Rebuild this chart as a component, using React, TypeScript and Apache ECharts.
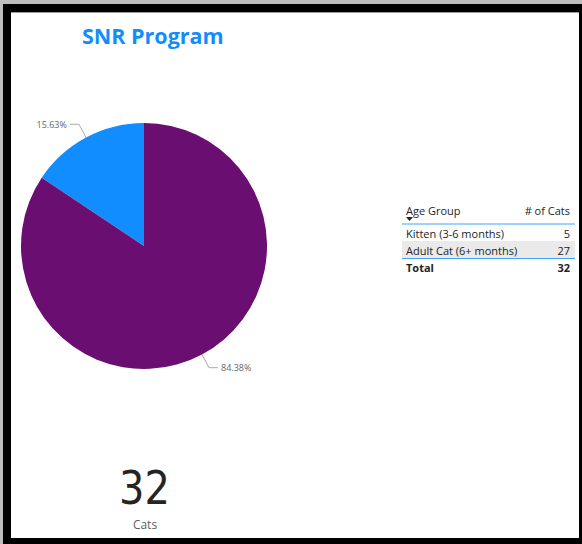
import React, { useEffect, useRef } from "react";
import * as echarts from "echarts";

const titleText = "SNR Program";
const ageGroups = ["Kitten (3-6 months)", "Adult Cat (6+ months)"];
const catCounts = [5, 27];
const sliceColors = ["#118DFF", "#6B0E72"];
const tableHeaders = ["Age Group", "# of Cats"];
const totalLabel = "Total";
const cardLabel = "Cats";

const FONT = "'Segoe UI', 'Open Sans', 'Noto Sans', sans-serif";

export default function App() {
  const ref = useRef<HTMLDivElement>(null);
  useEffect(() => {
    if (!ref.current) return;
    const chart = echarts.init(ref.current, null, { renderer: "svg" });
    const total = catCounts.reduce((a, b) => a + b, 0);

    const tX0 = 402, tX1 = 575, tL = 406, tR = 570;
    const headerY = 210;
    const rowYs = [233, 250];
    const fs = 11;
    const graphic: any[] = [
      { type: "rect", shape: { x: 0, y: 0, width: 582, height: 544 }, style: { fill: "#BDBDBD" }, z: -10 },
      { type: "rect", shape: { x: 3, y: 4, width: 579, height: 540 }, style: { fill: "#000" }, z: -9 },
      { type: "rect", shape: { x: 11, y: 12, width: 568, height: 1 }, style: { fill: "#9a9a9a" }, z: -8 },
      { type: "rect", shape: { x: 11, y: 13, width: 568, height: 525 }, style: { fill: "#fff" }, z: -8 },
      // table header
      { type: "text", x: tL, y: headerY, style: { text: tableHeaders[0], font: `${fs}px ${FONT}`, fill: "#252423", verticalAlign: "middle" } },
      { type: "text", x: tR, y: headerY, style: { text: tableHeaders[1], font: `${fs}px ${FONT}`, fill: "#252423", align: "right", verticalAlign: "middle" } },
      { type: "polygon", shape: { points: [[406, 217], [413, 217], [409.5, 221]] }, style: { fill: "#252423" } },
      { type: "line", shape: { x1: tX0, y1: 224, x2: tX1, y2: 224 }, style: { stroke: "#41A4FF", lineWidth: 1 } },
      { type: "rect", shape: { x: tX0, y: 241, width: tX1 - tX0, height: 17 }, style: { fill: "#EAEAEA" } },
      { type: "line", shape: { x1: tX0, y1: 258.5, x2: tX1, y2: 258.5 }, style: { stroke: "#41A4FF", lineWidth: 1 } },
      { type: "text", x: tL, y: 267, style: { text: totalLabel, font: `bold ${fs}px ${FONT}`, fill: "#252423", verticalAlign: "middle" } },
      { type: "text", x: tR, y: 267, style: { text: String(total), font: `bold ${fs}px ${FONT}`, fill: "#252423", align: "right", verticalAlign: "middle" } },
      // card
      { type: "text", x: 144.5, y: 488, scaleX: 0.87, style: { text: String(total), font: `46px 'DejaVu Sans', ${FONT}`, fill: "#252423", align: "center", verticalAlign: "middle" } },
      { type: "text", x: 145, y: 524, style: { text: cardLabel, font: `12px ${FONT}`, fill: "#605E5C", align: "center", verticalAlign: "middle" } },
    ];
    ageGroups.forEach((g, i) => {
      graphic.push({ type: "text", x: tL, y: rowYs[i], style: { text: g, font: `${fs}px ${FONT}`, fill: "#252423", verticalAlign: "middle" } });
      graphic.push({ type: "text", x: tR, y: rowYs[i], style: { text: String(catCounts[i]), font: `${fs}px ${FONT}`, fill: "#252423", align: "right", verticalAlign: "middle" } });
    });

    chart.setOption({
      animation: false,
      title: {
        text: titleText,
        left: 77,
        top: 19,
        textStyle: { color: "#118DFF", fontSize: 21.5, fontWeight: "bold", fontFamily: FONT },
      },
      graphic,
      series: [
        {
          type: "pie",
          center: [144, 246],
          radius: 123,
          startAngle: 90,
          clockwise: false,
          avoidLabelOverlap: false,
          data: ageGroups.map((g, i) => ({ name: g, value: catCounts[i], itemStyle: { color: sliceColors[i] } })),
          itemStyle: { borderWidth: 0 },
          label: {
            show: true,
            position: "outside",
            formatter: (p: any) => ((p.value / total) * 100).toFixed(2) + "%",
            fontSize: 9,
            fontFamily: FONT,
            color: "#666666",
            distanceToLabelLine: 3,
          },
          labelLine: { show: true, length: 15, length2: 9, lineStyle: { color: "#AAAAAA", width: 1 } },
          emphasis: { disabled: true },
        },
      ],
    });
    return () => chart.dispose();
  }, []);
  return <div ref={ref} style={{ position: "absolute", left: 0, top: 0, width: 582, height: 544 }} />;
}
